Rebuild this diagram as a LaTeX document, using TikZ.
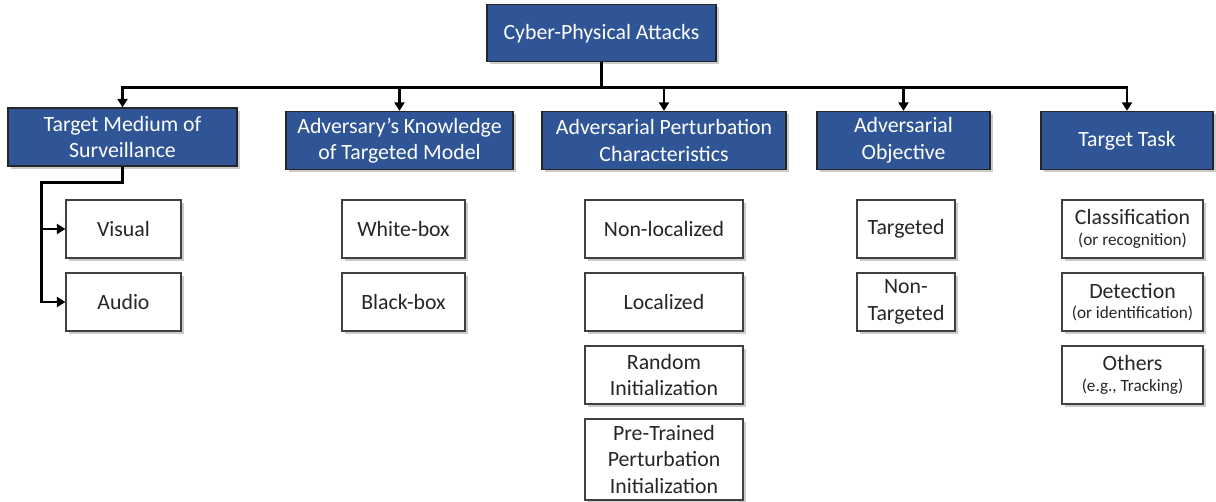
\documentclass[tikz,border=0pt]{standalone}
\usepackage{fontspec}
\setmainfont{Carlito}
\usetikzlibrary{arrows.meta,shadows}
\definecolor{boxblue}{RGB}{47,85,151}
\definecolor{txtdark}{RGB}{38,38,38}
\tikzset{
  base/.style={rectangle, inner sep=0pt, align=center,
    font=\fontsize{21.8}{26.6}\selectfont,
    drop shadow={shadow xshift=2.5pt, shadow yshift=-2.5pt, fill=black!45, opacity=0.45}},
  bluebox/.style={base, fill=boxblue, draw=black!85, line width=1.3pt, text=white},
  whitebox/.style={base, fill=white, draw=black!75, line width=1.2pt, text=txtdark},
  conn/.style={draw=black, line width=2.6pt},
  arr/.style={conn, -{Triangle[length=8.5pt,width=10pt]}},
}
\newcommand{\smalltxt}[1]{{\fontsize{17.2}{19}\selectfont #1}}
\begin{document}
\begin{tikzpicture}[x=1pt,y=-1pt]
\useasboundingbox (0,0) rectangle (1216,501);

% top
\node[bluebox, minimum width=229pt, minimum height=57pt] (top) at (601.5,33.3) {Cyber-Physical Attacks};

% level 2
\node[bluebox, minimum width=229pt, minimum height=58pt] (t1) at (122.5,137) {Target Medium of\\Surveillance};
\node[bluebox, minimum width=227pt, minimum height=58pt] (t2) at (399.5,140.5) {Adversary’s Knowledge\\of Targeted Model};
\node[bluebox, minimum width=244pt, minimum height=58pt] (t3) at (664,140.5) {Adversarial Perturbation\\Characteristics};
\node[bluebox, minimum width=173pt, minimum height=58pt] (t4) at (903.5,140.5) {Adversarial\\Objective};
\node[bluebox, minimum width=172pt, minimum height=58pt] (t5) at (1127,140.5) {Target Task};

% level 3 column 1
\node[whitebox, minimum width=115pt, minimum height=58pt] (v1) at (123.5,229) {Visual};
\node[whitebox, minimum width=115pt, minimum height=58pt] (v2) at (123.5,302) {Audio};

% column 2
\node[whitebox, minimum width=123pt, minimum height=58pt] (w1) at (403.5,229) {White-box};
\node[whitebox, minimum width=123pt, minimum height=58pt] (w2) at (403.5,302) {Black-box};

% column 3
\node[whitebox, minimum width=158pt, minimum height=58pt] (p1) at (664,229) {Non-localized};
\node[whitebox, minimum width=158pt, minimum height=58pt] (p2) at (664,302) {Localized};
\node[whitebox, minimum width=158pt, minimum height=58pt] (p3) at (664,375) {Random\\Initialization};
\node[whitebox, minimum width=158pt, minimum height=81pt] (p4) at (664,459.5) {Pre-Trained\\Perturbation\\Initialization};

% column 4
\node[whitebox, minimum width=98pt, minimum height=58pt] (o1) at (906,229) {Targeted};
\node[whitebox, minimum width=98pt, minimum height=58pt] (o2) at (906,302) {Non-\\Targeted};

% column 5
\node[whitebox, minimum width=141pt, minimum height=58pt] (k1) at (1132.5,229) {Classification\\[-6pt]\smalltxt{(or recognition)}};
\node[whitebox, minimum width=141pt, minimum height=58pt] (k2) at (1132.5,302) {Detection\\[-6pt]\smalltxt{(or identification)}};
\node[whitebox, minimum width=141pt, minimum height=58pt] (k3) at (1132.5,375) {Others\\[-6pt]\smalltxt{(e.g., Tracking)}};

% connectors from top
\coordinate (bus) at (601.5,87.5);
\draw[conn] (top.south) -- (bus);
\draw[arr] (bus) -| (t1.north);
\draw[arr] (bus) -| (t2.north);
\draw[arr] (bus) -| (t3.north);
\draw[arr] (bus) -| (t4.north);
\draw[arr] (bus) -| (t5.north);

% connectors from t1
\coordinate (lp) at (41.7,182.7);
\draw[arr] (t1.south) |- (lp) -- (lp |- v2.west) -- (v2.west);
\draw[arr] (lp |- v1.west) -- (v1.west);
\end{tikzpicture}
\end{document}
